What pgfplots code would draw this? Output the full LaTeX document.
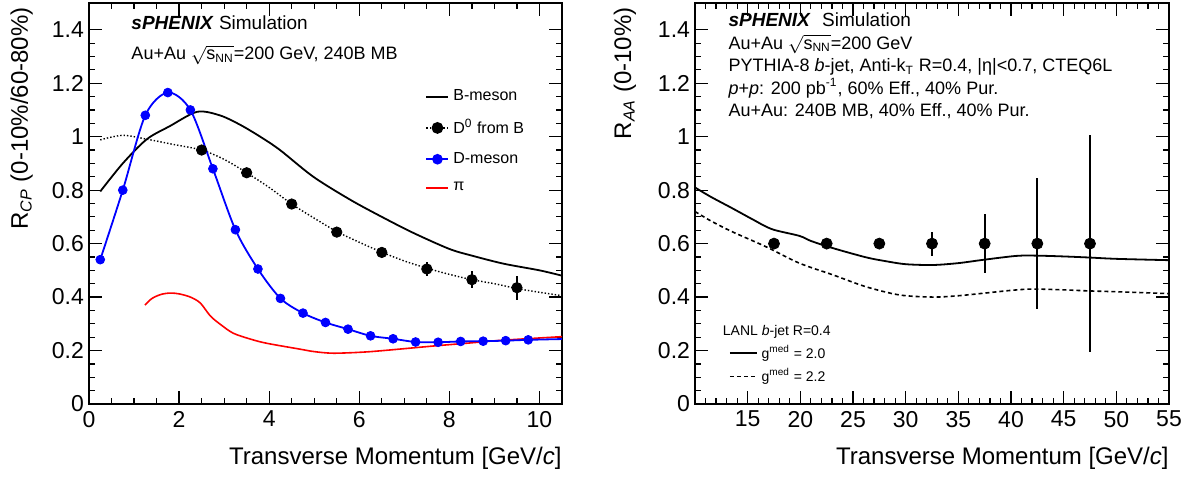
\documentclass[border=0pt]{standalone}
\usepackage{fontspec}
\setmainfont{Liberation Sans}
\usepackage{amsmath}
\usepackage{pgfplots}
\pgfplotsset{compat=1.18}
\definecolor{rootblue}{RGB}{0,0,255}
\definecolor{rootred}{RGB}{255,0,0}

\pgfplotsset{
  rootstyle/.style={
    scale only axis, height=200.5pt,
    ymin=0, ymax=1.5,
    ytick={0,0.2,0.4,0.6,0.8,1,1.2,1.4},
    minor y tick num=3,
    tick align=inside,
    major tick length=6.5pt, minor tick length=3.2pt,
    axis line style={line width=0.8pt},
    every tick/.style={black, line width=0.6pt},
    tick label style={font=\fontsize{11.5}{13}\selectfont},
    /pgf/number format/assume math mode=true,
    label style={font=\fontsize{12}{14}\selectfont},
    xlabel style={at={(axis description cs:1,-0.152)}, anchor=base east, inner sep=0pt},
    ylabel style={anchor=base east, inner sep=0pt},
    yticklabel style={xshift=1pt},
  },
  legend image code/.code={\draw[mark repeat=2,mark phase=2,#1] plot coordinates {(0pt,0pt) (5.5pt,0pt) (11pt,0pt)};},
}

\begin{document}
\begin{tikzpicture}
\useasboundingbox (-44.5pt,-37pt) rectangle (552pt,202pt);

% left panel: R_CP
\begin{axis}[rootstyle, width=236.5pt,
  at={(0pt,0pt)}, anchor=south west,
  xmin=0, xmax=10.5,
  xtick={0,2,4,6,8,10}, minor x tick num=3,
  xlabel={Transverse Momentum [GeV/\textit{c}]},
  ylabel={R$_{\text{\textit{CP}}}$ (0-10\%/60-80\%)},
  ylabel style={at={(axis description cs:-0.129,0.99)}},
  legend style={draw=none, fill=none, at={(axis description cs:0.698,0.805)}, anchor=north west,
    font=\fontsize{8}{9.6}\selectfont, row sep=3.9pt, cells={anchor=west}},
  legend cell align=left,
]
\addlegendimage{black, line width=0.9pt}
\addlegendentry{B-meson}
\addlegendimage{black, densely dotted, line width=0.7pt, mark=*, mark size=2.6pt, mark options={solid}}
\addlegendentry{D\textsuperscript{0} from B}
\addlegendimage{rootblue, line width=0.9pt, mark=*, mark size=2.2pt}
\addlegendentry{D-meson}
\addlegendimage{rootred, line width=0.8pt}
\addlegendentry{$\text{π}$}

% pi
\addplot[rootred, line width=0.8pt, smooth, forget plot] coordinates {
 (1.24,0.37) (1.4,0.395) (1.6,0.41) (1.8,0.415) (2.0,0.412) (2.25,0.40) (2.47,0.378)
 (2.69,0.33) (2.9,0.30) (3.2,0.265) (3.6,0.242) (3.95,0.227) (4.69,0.205) (5.0,0.196)
 (5.43,0.19) (6.17,0.195) (7.0,0.207) (7.65,0.217) (8.5,0.229) (9.13,0.238) (10.5,0.252)
};
% B-meson
\addplot[black, line width=0.9pt, smooth, forget plot] coordinates {
 (0.25,0.795) (0.75,0.90) (1.28,0.99) (1.8,1.04) (2.4,1.093) (2.9,1.08) (3.35,1.045)
 (3.8,1.0) (4.24,0.95) (4.98,0.85) (5.8,0.764) (6.5,0.70) (7.2,0.64) (8.0,0.58)
 (8.5,0.555) (9.2,0.525) (10.0,0.50) (10.5,0.48)
};
% D0 from B curve
\addplot[black, densely dotted, line width=0.7pt, smooth, forget plot] coordinates {
 (0.25,0.988) (0.75,1.005) (1.3,0.99) (1.9,0.97) (2.5,0.95) (3.0,0.915) (3.5,0.865)
 (4.0,0.81) (4.5,0.748) (5.0,0.695) (5.5,0.645) (6.0,0.605) (6.5,0.568) (7.0,0.535)
 (7.5,0.508) (8.0,0.485) (8.5,0.465) (9.0,0.45) (9.5,0.432) (10.0,0.418) (10.5,0.405)
};
% D0 from B points
\addplot[black, only marks, mark=*, mark size=2.6pt, forget plot,
  error bars/.cd, y dir=both, y explicit, error mark=none,
  error bar style={line width=0.9pt}] table[x=x, y=y, y error=e] {
x y e
2.5 0.95 0.005
3.5 0.865 0.008
4.5 0.748 0.010
5.5 0.643 0.012
6.5 0.567 0.015
7.5 0.505 0.025
8.5 0.465 0.032
9.5 0.435 0.045
};
% D-meson curve
\addplot[rootblue, line width=0.9pt, smooth, forget plot] coordinates {
 (0.25,0.54) (0.75,0.80) (1.25,1.08) (1.75,1.165) (2.25,1.10) (2.75,0.88) (3.25,0.652)
 (3.75,0.505) (4.25,0.395) (4.75,0.34) (5.25,0.305) (5.75,0.28) (6.25,0.255) (6.75,0.244)
 (7.25,0.232) (7.75,0.231) (8.25,0.234) (8.75,0.235) (9.25,0.237) (9.75,0.24) (10.5,0.243)
};
% D-meson points
\addplot[rootblue, only marks, mark=*, mark size=2.2pt, forget plot] coordinates {
 (0.25,0.54) (0.75,0.80) (1.25,1.08) (1.75,1.165) (2.25,1.10) (2.75,0.88) (3.25,0.652)
 (3.75,0.505) (4.25,0.395) (4.75,0.34) (5.25,0.305) (5.75,0.28) (6.25,0.255) (6.75,0.244)
 (7.25,0.232) (7.75,0.231) (8.25,0.234) (8.75,0.235) (9.25,0.237) (9.75,0.24)
};

\node[anchor=base west, inner sep=0pt, font=\fontsize{9.5}{11}\selectfont] at (axis description cs:0.089,0.935)
  {\textbf{\textit{sPHENIX}} Simulation};
\node[anchor=base west, inner sep=0pt, font=\fontsize{9}{11}\selectfont] at (axis description cs:0.089,0.858)
  {Au+Au $\sqrt{\text{s}_{\text{NN}}}$=200 GeV, 240B MB};
\end{axis}

% right panel: R_AA
\begin{axis}[rootstyle, width=237pt,
  at={(303pt,0pt)}, anchor=south west,
  xmin=10, xmax=55,
  xtick={10,15,20,25,30,35,40,45,50,55},
  xticklabels={,15,20,25,30,35,40,45,50,55},
  minor x tick num=4,
  xlabel={Transverse Momentum [GeV/\textit{c}]},
  ylabel={R$_{\text{\textit{AA}}}$ (0-10\%)},
  ylabel style={at={(axis description cs:-0.135,0.99)}},
  legend style={draw=none, fill=none, at={(axis description cs:0.058,0.168)}, anchor=north west,
    font=\fontsize{7}{8.4}\selectfont, row sep=-0.5pt, cells={anchor=west}},
  legend cell align=left,
  legend image code/.code={\draw[#1] (0pt,0pt) -- (13.5pt,0pt);},
]
\addplot[black, line width=0.9pt, smooth] coordinates {
 (10,0.81) (11.5,0.775) (13.5,0.733) (15.5,0.69) (17.3,0.654) (19.9,0.629) (21,0.61)
 (23.1,0.583) (26.2,0.549) (28,0.535) (30,0.523) (32.6,0.52) (35,0.527) (37.3,0.539)
 (40.5,0.554) (42.4,0.555) (45,0.552) (47.4,0.548) (50,0.543) (55,0.538)
};
\addlegendentry{g\textsuperscript{med} = 2.0}
\addplot[black, line width=0.8pt, dash pattern=on 2pt off 1.5pt, smooth] coordinates {
 (10,0.72) (11.5,0.685) (13.5,0.645) (16.7,0.589) (19.9,0.527) (23.1,0.483) (26.2,0.439)
 (29.4,0.408) (32.6,0.40) (35,0.405) (37.3,0.414) (40,0.425) (42,0.43) (45,0.427)
 (47.4,0.423) (50,0.42) (55,0.413)
};
\addlegendentry{g\textsuperscript{med} = 2.2}
\addplot[black, only marks, mark=*, mark size=2.75pt, forget plot,
  error bars/.cd, y dir=both, y explicit, error mark=none,
  error bar style={line width=0.9pt}] table[x=x, y=y, y error=e] {
x y e
17.5 0.6 0
22.5 0.6 0
27.5 0.6 0
32.5 0.6 0.045
37.5 0.6 0.11
42.5 0.6 0.245
47.5 0.6 0.405
};

\node[anchor=base west, inner sep=0pt, font=\fontsize{7}{8.4}\selectfont] at (axis description cs:0.058,0.170)
  {LANL \textit{b}-jet R=0.4};
\node[anchor=base west, inner sep=0pt, font=\fontsize{9.5}{11}\selectfont] at (axis description cs:0.07,0.942)
  {\textbf{\textit{sPHENIX}}\hspace{0.6em}Simulation};
\node[anchor=base west, inner sep=0pt, font=\fontsize{9}{11}\selectfont] at (axis description cs:0.07,0.885)
  {Au+Au $\sqrt{\text{s}_{\text{NN}}}$=200 GeV};
\node[anchor=base west, inner sep=0pt, font=\fontsize{9}{11}\selectfont] at (axis description cs:0.07,0.828)
  {PYTHIA-8 \textit{b}-jet, Anti-k$_{\text{T}}$ R=0.4, |η|<0.7, CTEQ6L};
\node[anchor=base west, inner sep=0pt, font=\fontsize{9}{11}\selectfont] at (axis description cs:0.07,0.773)
  {\textit{p}+\textit{p}: 200 pb\textsuperscript{-1}, 60\% Eff., 40\% Pur.};
\node[anchor=base west, inner sep=0pt, font=\fontsize{9}{11}\selectfont] at (axis description cs:0.07,0.716)
  {Au+Au: 240B MB, 40\% Eff., 40\% Pur.};
\end{axis}
\end{tikzpicture}
\end{document}
